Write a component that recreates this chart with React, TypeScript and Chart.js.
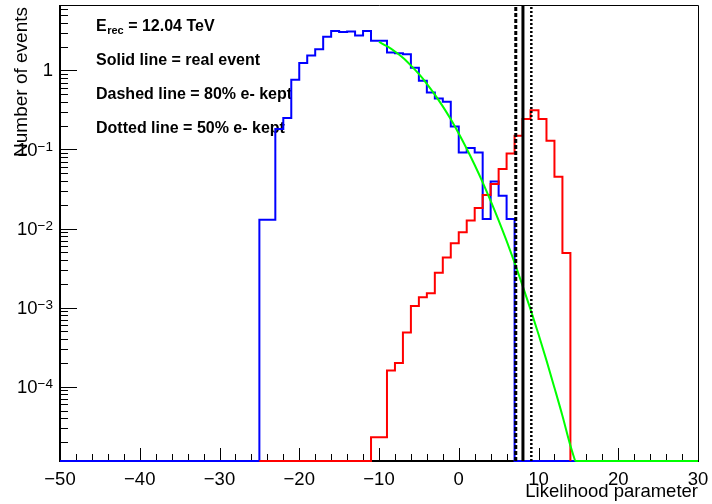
import React, { useEffect, useRef } from 'react';
import { Chart, registerables } from 'chart.js';

Chart.register(...registerables);

// ---- axis ranges ----
const X_MIN = -50;
const X_MAX = 30;
const Y_MIN = 1.15e-5;
const Y_MAX = 6.7;

// ---- tick labels ----
const xTickValues = [-50, -40, -30, -20, -10, 0, 10, 20, 30];
const xTickLabels = ['\u221250', '\u221240', '\u221230', '\u221220', '\u221210', '0', '10', '20', '30'];
const xMinorStep = 2;
const yTickValues = [1e-4, 1e-3, 1e-2, 1e-1, 1];
const yTickBases = ['10', '10', '10', '10', '1'];
const yTickExponents = ['\u22124', '\u22123', '\u22122', '\u22121', ''];

// ---- histograms (bin width 1, values for first..last filled bin) ----
const blueRange = [-50, 15];
const blueFirstBin = -25;
const blueValues = [
  0.0129, 0.0129, 0.181, 0.249, 0.76, 1.24, 1.54, 1.85, 2.65, 3.15,
  3.05, 3.1, 2.75, 3.15, 2.36, 2.36, 1.68, 1.65, 1.6, 1.08,
  0.74, 0.525, 0.44, 0.4, 0.195, 0.0916, 0.104, 0.0916, 0.0132, 0.0394,
  0.026, 0.0132,
];
const redRange = [-25, 14];
const redFirstBin = -11;
const redValues = [
  2.3e-5, 2.3e-5, 1.6e-4, 2.0e-4, 4.85e-4, 1.05e-3, 1.35e-3, 1.52e-3, 2.75e-3, 4.3e-3,
  6.5e-3, 8.95e-3, 0.0126, 0.0182, 0.0266, 0.0366, 0.0565, 0.089, 0.149, 0.242,
  0.314, 0.242, 0.129, 0.0452, 0.0049,
];

// ---- fit curve ----
const greenX = [-10, -9, -8, -7, -6, -5, -4, -3, -2, -1, 0, 1, 2, 3, 4, 5, 6, 7, 8, 9, 10, 11, 12, 13, 14, 14.6];
const greenY = [
  2.29, 2.02, 1.73, 1.44, 1.15, 0.9, 0.676, 0.494, 0.35, 0.24,
  0.159, 0.102, 0.0636, 0.0384, 0.0224, 0.0127, 0.00697, 0.0037, 0.0019, 9.5e-4,
  4.6e-4, 2.15e-4, 9.7e-5, 4.3e-5, 1.8e-5, 1.15e-5,
];
const greenFloorX = [14.6, 30];

// ---- cut lines ----
const cutDashedX = 7.15;
const cutSolidX = 8.05;
const cutDottedX = 9.1;

// ---- texts ----
const energyLabel = { main: 'E', sub: 'rec', rest: ' = 12.04 TeV' };
const noteLines = ['Solid line = real event', 'Dashed line = 80% e- kept', 'Dotted line = 50% e- kept'];
const xTitle = 'Likelihood parameter';
const yTitle = 'Number of events';

const FONT = '"Liberation Sans", Arial, Helvetica, sans-serif';

function histPoints(range: number[], firstBin: number, values: number[]) {
  const pts: { x: number; y: number }[] = [{ x: range[0], y: Y_MIN }];
  for (let e = range[0]; e < range[1]; e++) {
    const i = e - firstBin;
    const v = i >= 0 && i < values.length ? values[i] : 0;
    pts.push({ x: e, y: v > 0 ? v : Y_MIN });
  }
  pts.push({ x: range[1], y: pts[pts.length - 1].y });
  pts.push({ x: range[1], y: Y_MIN });
  return pts;
}

const rootStylePlugin = {
  id: 'rootStyle',
  beforeDatasetsDraw(chart: any) {
    const { ctx, chartArea: a, scales } = chart;
    const x = scales.x;
    const y = scales.y;
    ctx.save();
    ctx.strokeStyle = '#000';
    ctx.fillStyle = '#000';

    // frame
    ctx.lineWidth = 1;
    ctx.beginPath();
    ctx.moveTo(a.left, a.top + 0.5);
    ctx.lineTo(a.right + 0.5, a.top + 0.5);
    ctx.lineTo(a.right + 0.5, a.bottom);
    ctx.stroke();
    ctx.lineWidth = 2;
    ctx.beginPath();
    ctx.moveTo(a.left, a.top);
    ctx.lineTo(a.left, a.bottom);
    ctx.lineTo(a.right + 1, a.bottom);
    ctx.stroke();

    // x ticks (inward)
    ctx.lineWidth = 1;
    for (let v = X_MIN; v <= X_MAX; v += xMinorStep) {
      const px = Math.round(x.getPixelForValue(v)) + 0.5;
      const major = xTickValues.includes(v);
      ctx.beginPath();
      ctx.moveTo(px, a.bottom);
      ctx.lineTo(px, a.bottom - (major ? 13 : 7));
      ctx.stroke();
    }
    // y ticks (inward, log)
    for (let d = -6; d <= 1; d++) {
      for (let m = 1; m <= 9; m++) {
        const val = m * Math.pow(10, d);
        if (val < Y_MIN || val > Y_MAX) continue;
        const py = Math.round(y.getPixelForValue(val)) + 0.5;
        ctx.beginPath();
        ctx.moveTo(a.left, py);
        ctx.lineTo(a.left + (m === 1 ? 17 : 8), py);
        ctx.stroke();
      }
    }

    // x labels
    ctx.font = `18.5px ${FONT}`;
    ctx.textAlign = 'center';
    ctx.textBaseline = 'alphabetic';
    xTickValues.forEach((v, i) => {
      ctx.fillText(xTickLabels[i], x.getPixelForValue(v), 485);
    });

    // y labels
    const right = 53;
    yTickValues.forEach((v, i) => {
      const py = y.getPixelForValue(v);
      const exp = yTickExponents[i];
      if (!exp) {
        ctx.font = `18.5px ${FONT}`;
        ctx.textAlign = 'right';
        ctx.textBaseline = 'middle';
        ctx.fillText(yTickBases[i], right, py + 1);
      } else {
        ctx.font = `13.5px ${FONT}`;
        const ew = ctx.measureText(exp).width;
        ctx.textAlign = 'left';
        ctx.textBaseline = 'alphabetic';
        ctx.fillText(exp, right - ew, py + 1.5);
        ctx.font = `18.5px ${FONT}`;
        ctx.textAlign = 'right';
        ctx.textBaseline = 'middle';
        ctx.fillText(yTickBases[i], right - ew, py + 1);
      }
    });

    // axis titles
    ctx.font = `18.5px ${FONT}`;
    ctx.textAlign = 'right';
    ctx.textBaseline = 'alphabetic';
    ctx.fillText(xTitle, a.right, 497);
    ctx.save();
    ctx.translate(27, a.top + 2);
    ctx.rotate(-Math.PI / 2);
    ctx.font = `19px ${FONT}`;
    ctx.textAlign = 'right';
    ctx.fillText(yTitle, 0, 0);
    ctx.restore();

    // annotations
    ctx.textAlign = 'left';
    ctx.textBaseline = 'alphabetic';
    let tx = 96;
    ctx.font = `bold 16px ${FONT}`;
    ctx.fillText(energyLabel.main, tx, 31);
    tx += ctx.measureText(energyLabel.main).width;
    ctx.font = `bold 11px ${FONT}`;
    ctx.fillText(energyLabel.sub, tx + 0.5, 34);
    tx += ctx.measureText(energyLabel.sub).width + 0.5;
    ctx.font = `bold 16px ${FONT}`;
    ctx.fillText(energyLabel.rest, tx, 31);
    const baselines = [65, 99, 133];
    noteLines.forEach((t, i) => ctx.fillText(t, 96, baselines[i]));

    ctx.restore();
  },
};

export default function App() {
  const canvasRef = useRef<HTMLCanvasElement | null>(null);

  useEffect(() => {
    const canvas = canvasRef.current;
    if (!canvas) return;
    const base = { pointRadius: 0, fill: false, clip: false as any };
    const chart = new Chart(canvas, {
      type: 'line',
      data: {
        datasets: [
          { ...base, data: histPoints(blueRange, blueFirstBin, blueValues), borderColor: '#0000ff', borderWidth: 2, stepped: 'before', order: 7 },
          { ...base, data: histPoints(redRange, redFirstBin, redValues), borderColor: '#ff0000', borderWidth: 2, stepped: 'before', order: 6 },
          { ...base, data: greenX.map((gx, i) => ({ x: gx, y: greenY[i] })), borderColor: '#00ff00', borderWidth: 2, cubicInterpolationMode: 'monotone', tension: 0.4, order: 5 },
          { ...base, data: greenFloorX.map((gx) => ({ x: gx, y: Y_MIN })), borderColor: '#00ff00', borderWidth: 2, order: 4 },
          { ...base, data: [{ x: cutDashedX, y: Y_MIN }, { x: cutDashedX, y: Y_MAX }], borderColor: '#000000', borderWidth: 3, borderDash: [4, 2], order: 3 },
          { ...base, data: [{ x: cutSolidX, y: Y_MIN }, { x: cutSolidX, y: Y_MAX }], borderColor: '#000000', borderWidth: 3, order: 2 },
          { ...base, data: [{ x: cutDottedX, y: Y_MIN }, { x: cutDottedX, y: Y_MAX }], borderColor: '#000000', borderWidth: 2.5, borderDash: [2, 2], order: 1 },
        ] as any,
      },
      options: {
        animation: false,
        responsive: false,
        maintainAspectRatio: false,
        layout: { padding: { left: 60, top: 5, right: 14, bottom: 43 } },
        scales: {
          x: { type: 'linear', min: X_MIN, max: X_MAX, display: false },
          y: { type: 'logarithmic', min: Y_MIN, max: Y_MAX, display: false },
        },
        plugins: { legend: { display: false }, tooltip: { enabled: false }, title: { display: false } },
        elements: { point: { radius: 0 } },
      },
      plugins: [rootStylePlugin],
    });
    return () => chart.destroy();
  }, []);

  return (
    <div style={{ position: 'absolute', left: 0, top: 0, width: 712, height: 504, background: '#fff' }}>
      <canvas ref={canvasRef} width={712} height={504} style={{ display: 'block', width: 712, height: 504 }} />
    </div>
  );
}
